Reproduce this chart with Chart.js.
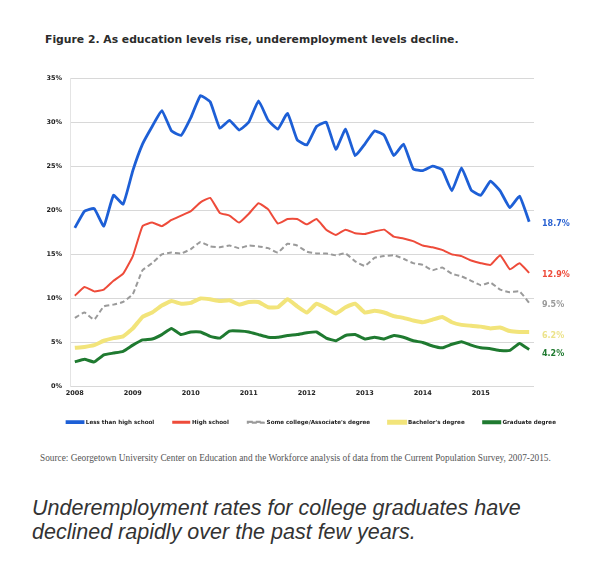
<!DOCTYPE html>
<html>
<head>
<meta charset="utf-8">
<script src="https://cdn.jsdelivr.net/npm/chart.js@4"></script>
<style>
  body { margin: 0; background: #fff; width: 593px; height: 565px; position: relative; overflow: hidden; }
  #title { position: absolute; left: 45px; top: 33px; font: bold 10.8px "DejaVu Sans", sans-serif; color: #2b2b2b; white-space: nowrap; }
  #box { position: absolute; left: 30px; top: 60px; width: 563px; height: 380px; }
  #source { position: absolute; left: 40px; top: 453px; font: 9.3px "Liberation Serif", serif; color: #555; white-space: nowrap; }
  #caption { position: absolute; left: 32px; top: 496px; font: italic 21.5px "Liberation Sans", Arial, sans-serif; color: #333; line-height: 24px; }
</style>
</head>
<body>
<div id="title">Figure 2. As education levels rise, underemployment levels decline.</div>
<div id="box"><canvas id="myChart"></canvas></div>
<div id="source">Source: Georgetown University Center on Education and the Workforce analysis of data from the Current Population Survey, 2007-2015.</div>
<div id="caption">Underemployment rates for college graduates have<br>declined rapidly over the past few years.</div>
<script>
// two-month steps, Jan 2008 .. Nov 2015
var periods = [
  "2008-01","2008-03","2008-05","2008-07","2008-09","2008-11",
  "2009-01","2009-03","2009-05","2009-07","2009-09","2009-11",
  "2010-01","2010-03","2010-05","2010-07","2010-09","2010-11",
  "2011-01","2011-03","2011-05","2011-07","2011-09","2011-11",
  "2012-01","2012-03","2012-05","2012-07","2012-09","2012-11",
  "2013-01","2013-03","2013-05","2013-07","2013-09","2013-11",
  "2014-01","2014-03","2014-05","2014-07","2014-09","2014-11",
  "2015-01","2015-03","2015-05","2015-07","2015-09","2015-11"
];
var yearTicks = ["2008", "2009", "2010", "2011", "2012", "2013", "2014", "2015"];
var seriesNames = ["Less than high school", "High school", "Some college/Associate's degree", "Bachelor's degree", "Graduate degree"];

var lessThanHS = [18.0,19.9,20.2,18.2,21.7,20.7,24.5,27.5,29.5,31.3,29.0,28.5,
  30.5,33.0,32.3,29.3,30.2,29.1,30.0,32.4,30.2,29.2,31.0,28.0,
  27.4,29.5,30.0,26.9,29.2,26.2,27.5,29.0,28.5,26.2,27.5,24.7,
  24.5,25.0,24.6,22.2,24.8,22.3,21.7,23.3,22.2,20.3,21.6,18.7];
var highSchool = [10.3,11.3,10.8,11.0,12.0,12.8,14.8,18.2,18.6,18.2,18.9,19.4,
  19.9,20.9,21.4,19.7,19.4,18.6,19.6,20.8,20.1,18.5,19.0,19.0,
  18.4,19.0,17.8,17.2,17.8,17.4,17.3,17.6,17.8,17.0,16.8,16.5,
  16.0,15.8,15.5,15.0,14.8,14.3,14.0,13.8,14.9,13.3,14.0,12.9];
var someCollege = [7.8,8.4,7.6,9.1,9.3,9.6,10.5,13.2,14.0,15.0,15.2,15.1,
  15.6,16.4,15.9,15.8,16.0,15.7,16.0,15.9,15.7,15.2,16.2,16.0,
  15.3,15.1,15.1,14.9,15.1,14.2,13.7,14.6,14.8,14.9,14.5,14.0,
  13.8,13.2,13.5,12.8,12.5,12.0,11.5,11.8,11.0,10.7,10.8,9.5];
var bachelors = [4.4,4.5,4.7,5.2,5.5,5.7,6.6,7.9,8.4,9.2,9.7,9.4,
  9.5,10.0,9.9,9.7,9.8,9.3,9.6,9.6,9.0,9.0,9.9,9.1,
  8.4,9.4,8.9,8.3,9.0,9.4,8.4,8.6,8.4,8.0,7.8,7.5,
  7.3,7.6,7.9,7.3,7.0,6.9,6.8,6.6,6.7,6.3,6.2,6.2];
var graduate = [2.8,3.1,2.8,3.6,3.8,4.0,4.7,5.3,5.4,5.9,6.6,5.9,
  6.2,6.2,5.7,5.5,6.3,6.3,6.2,5.9,5.6,5.6,5.8,5.9,
  6.1,6.2,5.5,5.2,5.8,5.9,5.4,5.6,5.4,5.8,5.6,5.2,
  5.0,4.6,4.4,4.8,5.1,4.7,4.4,4.3,4.1,4.1,4.9,4.2];

var lineColors = ["#1d5fd6", "#ee4b3a", "#9a9a9a", "#f2e47a", "#1f7a30"];
var labelColors = ["#2a62d2", "#ee4b3a", "#9a9a9a", "#ece38a", "#1f7a30"];

var endLabels = {
  id: "endLabels",
  afterDatasetsDraw(chart) {
    var ctx = chart.ctx;
    var x = chart.chartArea.right + 8;
    ctx.save();
    ctx.font = "bold 8px 'DejaVu Sans', sans-serif";
    ctx.textBaseline = "middle";
    chart.data.datasets.forEach(function (ds, i) {
      var v = ds.data[ds.data.length - 1];
      var y = chart.scales.y.getPixelForValue(v) + (i >= 3 ? 4 : 2);
      ctx.fillStyle = labelColors[i];
      ctx.fillText(v.toFixed(1) + "%", x, y);
    });
    ctx.restore();
  }
};

var seriesData = [lessThanHS, highSchool, someCollege, bachelors, graduate];
var widths = [2.8, 2, 2, 4, 3];

new Chart("myChart", {
  type: "line",
  data: {
    labels: periods,
    datasets: seriesData.map(function (d, i) {
      return {
        label: seriesNames[i],
        data: d,
        borderColor: lineColors[i],
        backgroundColor: lineColors[i],
        borderWidth: widths[i],
        borderDash: i === 2 ? [5, 3] : [],
        pointRadius: 0,
        tension: 0.12,
        fill: false
      };
    })
  },
  options: {
    responsive: true,
    maintainAspectRatio: false,
    animation: false,
    layout: { padding: { top: 18, right: 0, left: 0, bottom: 5 } },
    scales: {
      x: {
        offset: true,
        grid: { display: false, drawTicks: false },
        border: { display: false },
        ticks: {
          autoSkip: false,
          maxRotation: 0,
          padding: 3,
          color: "#222",
          font: { family: "DejaVu Sans", weight: "bold", size: 6.5 },
          callback: function (val, idx) {
            return idx % 6 === 0 ? yearTicks[idx / 6] : null;
          }
        }
      },
      y: {
        min: 0,
        max: 35,
        afterFit: function (scale) { scale.width = 40; },
        border: { display: true, color: "#e4e4e4" },
        grid: { color: "#d8d8d8", drawTicks: false },
        ticks: {
          stepSize: 5,
          padding: 8,
          color: "#222",
          font: { family: "DejaVu Sans", weight: "bold", size: 6.5 },
          callback: function (v) { return v + "%"; }
        }
      },
      // empty right axis keeps room for the end labels
      yRight: {
        position: "right",
        min: 0,
        max: 35,
        afterFit: function (scale) { scale.width = 59; },
        grid: { display: false },
        border: { display: false },
        ticks: { display: false }
      }
    },
    plugins: {
      legend: {
        position: "bottom",
        labels: {
          boxWidth: 16,
          boxHeight: 1,
          padding: 19,
          color: "#222",
          font: { family: "DejaVu Sans", weight: "bold", size: 5.6 }
        }
      },
      tooltip: { enabled: false }
    }
  },
  plugins: [endLabels]
});
</script>
</body>
</html>
